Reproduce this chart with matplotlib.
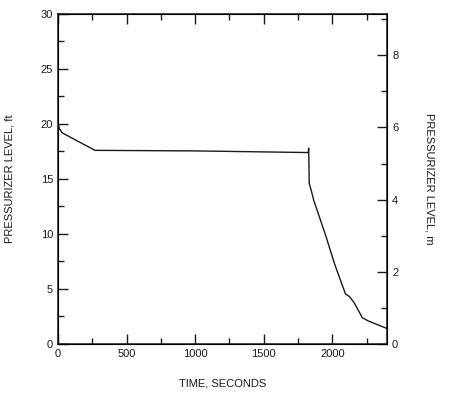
import matplotlib.pyplot as plt
from matplotlib.ticker import MultipleLocator

# level trace
time_s = [0, 10, 30, 270, 1000, 1825, 1828, 1832, 1850, 1864, 1955, 2016,
          2096, 2126, 2162, 2218, 2260, 2400]
level_ft = [20.2, 19.6, 19.2, 17.6, 17.55, 17.4, 17.8, 14.6, 13.8, 13.1, 9.75, 7.3,
            4.55, 4.3, 3.7, 2.4, 2.1, 1.4]

FT_TO_M = 0.3048

plt.rcParams['font.family'] = ['Liberation Sans', 'DejaVu Sans']
ink = '#1a1a1a'

fig = plt.figure(figsize=(4.56, 3.99), dpi=100)
ax = fig.add_axes([0.127, 0.138, 0.722, 0.827])
ax.plot(time_s, level_ft, color=ink, linewidth=1.0)

ax.set_xlim(0, 2400)
ax.set_ylim(0, 30)
ax.xaxis.set_major_locator(MultipleLocator(500))
ax.xaxis.set_minor_locator(MultipleLocator(250))
ax.yaxis.set_major_locator(MultipleLocator(5))
ax.yaxis.set_minor_locator(MultipleLocator(2.5))
ax.tick_params(which='both', direction='in', top=True, colors=ink, labelsize=8, width=1)
ax.tick_params(which='major', length=7)
ax.tick_params(which='minor', length=4)
for s in ax.spines.values():
    s.set_color(ink)
    s.set_linewidth(1.1)

ax.set_xlabel('TIME, SECONDS', fontsize=8, color=ink, labelpad=14)
ax.set_ylabel('PRESSURIZER LEVEL, ft', fontsize=8, color=ink, labelpad=19)

ax2 = ax.twinx()
ax2.set_ylim(0, 30 * FT_TO_M)
ax2.yaxis.set_major_locator(MultipleLocator(2))
ax2.yaxis.set_minor_locator(MultipleLocator(1))
ax2.tick_params(which='both', direction='in', colors=ink, labelsize=8, width=1)
ax2.tick_params(which='major', length=7)
ax2.tick_params(which='minor', length=4)
ax2.set_ylabel('PRESSURIZER LEVEL, m', fontsize=8, color=ink, rotation=270, labelpad=26)

fig.savefig('out.png', dpi=100)
